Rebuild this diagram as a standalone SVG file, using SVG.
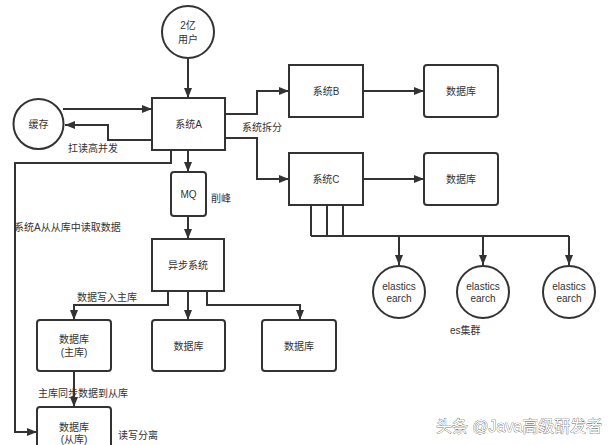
<svg xmlns="http://www.w3.org/2000/svg" width="615" height="445" viewBox="0 0 615 445">
<defs>
<marker id="ah" viewBox="0 0 10 8" refX="10" refY="4" markerWidth="10" markerHeight="8" markerUnits="userSpaceOnUse" orient="auto">
<path d="M0,0 L10,4 L0,8 Z" fill="#333"/>
</marker>
</defs>
<style>
.n{fill:#fff;stroke:#333;stroke-width:2}
.c{fill:none;stroke:#333;stroke-width:2}
.a{marker-end:url(#ah)}
text{font-family:"Liberation Sans","Noto Sans CJK SC",sans-serif;font-size:10px;fill:#333;text-anchor:middle;dominant-baseline:central}
.l{text-anchor:start}
.wm{font-family:"Liberation Sans","Noto Sans CJK SC",sans-serif;font-size:16px;fill:#fff;stroke:#444;stroke-width:0.6;text-anchor:start;paint-order:stroke}
</style>
<rect width="615" height="445" fill="#fff"/>
<g id="connectors">
<path class="c a" d="M188,58 V98"/>
<path class="c a" d="M63,109 H152"/>
<path class="c a" d="M152,140 H108 V125 H65"/>
<path class="c a" d="M225,114 H257 V91 H289"/>
<path class="c a" d="M225,138 H257 V179 H289"/>
<path class="c a" d="M363,91 H424"/>
<path class="c a" d="M363,179 H424"/>
<path class="c" d="M311,205 V236 M327,205 V236 M343,205 V236 M311,236 H569"/>
<path class="c a" d="M399,236 V265"/>
<path class="c a" d="M483,236 V265"/>
<path class="c a" d="M569,236 V265"/>
<path class="c a" d="M188,150 V172"/>
<path class="c a" d="M188,216 V239"/>
<path class="c a" d="M171,150 V163 H15 V432 H37"/>
<path class="c a" d="M168,291 V305 H74 V320"/>
<path class="c a" d="M188,291 V320"/>
<path class="c a" d="M207,291 V305 H300 V320"/>
<path class="c a" d="M74,371 V407"/>
</g>
<g id="users"><circle class="n" cx="188" cy="32" r="26"/><text x="188" y="25">2亿</text><text x="188" y="39">用户</text></g>
<g id="cache"><circle class="n" cx="38.5" cy="124" r="25"/><text x="38.5" y="124">缓存</text></g>
<g id="sysA"><rect class="n" x="152" y="98" width="73" height="52"/><text x="188.5" y="124">系统A</text></g>
<g id="sysB"><rect class="n" x="289" y="65" width="74" height="52"/><text x="326" y="91">系统B</text></g>
<g id="sysC"><rect class="n" x="289" y="153" width="74" height="52"/><text x="326" y="179">系统C</text></g>
<g id="dbB"><rect class="n" x="424" y="65" width="74" height="52" rx="3"/><text x="461" y="91">数据库</text></g>
<g id="dbC"><rect class="n" x="424" y="153" width="74" height="52" rx="3"/><text x="461" y="179">数据库</text></g>
<g id="mq"><rect class="n" x="171" y="172" width="35" height="44" rx="3"/><text x="188.5" y="194">MQ</text></g>
<g id="async"><rect class="n" x="152" y="239" width="72" height="52"/><text x="188" y="265">异步系统</text></g>
<g id="dbMaster"><rect class="n" x="37" y="320" width="74" height="51" rx="3"/><text x="74" y="339">数据库</text><text x="74" y="352">(主库)</text></g>
<g id="db2"><rect class="n" x="152" y="320" width="73" height="51" rx="3"/><text x="188.5" y="346">数据库</text></g>
<g id="db3"><rect class="n" x="262" y="320" width="74" height="51" rx="3"/><text x="299" y="346">数据库</text></g>
<g id="dbSlave"><rect class="n" x="37" y="407" width="74" height="50" rx="3"/><text x="74" y="427">数据库</text><text x="74" y="439">(从库)</text></g>
<g id="es1"><circle class="n" cx="399" cy="292" r="26"/><text x="399" y="286">elastics</text><text x="399" y="298">earch</text></g>
<g id="es2"><circle class="n" cx="483" cy="292" r="26"/><text x="483" y="286">elastics</text><text x="483" y="298">earch</text></g>
<g id="es3"><circle class="n" cx="569" cy="292" r="26"/><text x="569" y="286">elastics</text><text x="569" y="298">earch</text></g>
<g id="labels">
<text class="l" x="68" y="148">扛读高并发</text>
<text class="l" x="242" y="127">系统拆分</text>
<text class="l" x="211" y="198">削峰</text>
<text class="l" x="14" y="227">系统A从从库中读取数据</text>
<text class="l" x="77" y="297">数据写入主库</text>
<text class="l" x="38" y="393">主库同步数据到从库</text>
<text class="l" x="118" y="435">读写分离</text>
<text class="l" x="450" y="330">es集群</text>
</g>
<text class="wm" x="436" y="426" textLength="166" lengthAdjust="spacingAndGlyphs">头条 @Java高级研发者</text>
</svg>
